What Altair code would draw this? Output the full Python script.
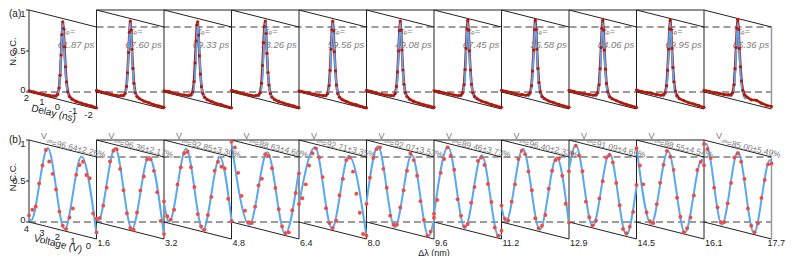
import altair as alt
import pandas as pd

# ---------------- data ----------------
panels = list(range(11))
tau_values = ["61.87", "67.60", "69.33", "73.26", "59.56", "49.08",
              "67.45", "35.58", "84.06", "69.95", "86.36"]
vis_values = ["96.64±2.26", "96.36±2.17", "92.85±3.30", "88.63±4.60",
              "92.71±3.35", "92.07±3.53", "89.46±3.73", "96.40±2.33",
              "91.09±4.66", "88.55±4.54", "85.00±5.49"]
wavelength_ticks = ["1.6", "3.2", "4.8", "6.4", "8.0", "9.6",
                    "11.2", "12.9", "14.5", "16.1", "17.7"]
ncc_ticks = [0, 0.5, 1]
ncc_tick_labels = ["0", "0.5", "1"]
delay_ticks = [2, 1, 0, -1, -2]
voltage_ticks = [4, 3, 2, 1, 0]

# (a) measured NCC vs delay (ns)
delay_grid = [2.0, 1.7, 1.4, 1.1, 0.8, 0.55, 0.4, 0.3, 0.22, 0.16, 0.1, 0.05,
              0.0, -0.05, -0.1, -0.16, -0.22, -0.3, -0.4, -0.55, -0.8, -1.1,
              -1.4, -1.7, -2.0]
red_a = [
    [0.015, 0.015, 0.015, 0.015, 0.02, 0.025, 0.035, 0.06, 0.14, 0.30, 0.55, 0.80, 0.96, 0.88, 0.66, 0.42, 0.24, 0.12, 0.07, 0.045, 0.03, 0.025, 0.02, 0.02, 0.015],
    [0.02, 0.015, 0.02, 0.015, 0.02, 0.03, 0.04, 0.07, 0.16, 0.33, 0.58, 0.83, 0.97, 0.86, 0.63, 0.40, 0.22, 0.11, 0.07, 0.05, 0.035, 0.03, 0.02, 0.02, 0.02],
    [0.015, 0.02, 0.015, 0.02, 0.025, 0.03, 0.05, 0.09, 0.22, 0.45, 0.72, 0.92, 0.96, 0.80, 0.55, 0.33, 0.18, 0.10, 0.06, 0.04, 0.03, 0.02, 0.02, 0.015, 0.015],
    [0.02, 0.02, 0.015, 0.02, 0.02, 0.03, 0.045, 0.08, 0.20, 0.42, 0.70, 0.90, 0.97, 0.82, 0.58, 0.35, 0.20, 0.10, 0.06, 0.04, 0.03, 0.025, 0.02, 0.02, 0.015],
    [0.015, 0.015, 0.02, 0.02, 0.025, 0.03, 0.04, 0.07, 0.17, 0.36, 0.62, 0.86, 0.97, 0.85, 0.60, 0.37, 0.20, 0.10, 0.06, 0.04, 0.03, 0.02, 0.02, 0.015, 0.015],
    [0.02, 0.02, 0.02, 0.02, 0.025, 0.03, 0.04, 0.07, 0.16, 0.34, 0.60, 0.85, 0.97, 0.86, 0.62, 0.38, 0.21, 0.11, 0.07, 0.045, 0.03, 0.025, 0.02, 0.02, 0.02],
    [0.015, 0.02, 0.02, 0.025, 0.025, 0.03, 0.045, 0.08, 0.18, 0.37, 0.63, 0.87, 0.98, 0.86, 0.61, 0.38, 0.21, 0.11, 0.07, 0.05, 0.035, 0.03, 0.025, 0.02, 0.02],
    [0.02, 0.02, 0.025, 0.02, 0.03, 0.035, 0.05, 0.08, 0.17, 0.35, 0.61, 0.86, 0.98, 0.87, 0.63, 0.40, 0.23, 0.12, 0.07, 0.05, 0.035, 0.03, 0.025, 0.02, 0.02],
    [0.02, 0.02, 0.02, 0.025, 0.03, 0.035, 0.05, 0.08, 0.18, 0.38, 0.64, 0.88, 0.98, 0.86, 0.62, 0.39, 0.22, 0.12, 0.07, 0.05, 0.04, 0.03, 0.025, 0.02, 0.02],
    [0.025, 0.02, 0.025, 0.03, 0.03, 0.035, 0.05, 0.08, 0.17, 0.36, 0.62, 0.87, 0.98, 0.87, 0.64, 0.41, 0.24, 0.13, 0.08, 0.05, 0.04, 0.03, 0.03, 0.025, 0.02],
    [0.02, 0.025, 0.02, 0.03, 0.03, 0.04, 0.05, 0.08, 0.18, 0.38, 0.64, 0.88, 0.99, 0.87, 0.64, 0.42, 0.25, 0.14, 0.09, 0.07, 0.05, 0.06, 0.04, 0.03, 0.03],
]
# (a) fitted curve (same shape in every panel)
fit_delay = [0.45, 0.3, 0.22, 0.15, 0.08, 0.0, -0.08, -0.15, -0.22, -0.3, -0.45]
fit_a = [0.02, 0.06, 0.14, 0.32, 0.66, 0.95, 0.68, 0.38, 0.20, 0.10, 0.04]

# (b) measured NCC vs voltage (V)
volt_grid = [4.0, 3.8, 3.6, 3.4, 3.2, 3.0, 2.8, 2.6, 2.4, 2.2, 2.0,
             1.8, 1.6, 1.4, 1.2, 1.0, 0.8, 0.6, 0.4, 0.2, 0.0]
red_b = [
    [0.08, 0.16, 0.21, 0.50, 0.73, 0.93, 0.80, 0.66, 0.48, 0.22, 0.06, 0.03, 0.18, 0.30, 0.72, 0.85, 0.90, 0.75, 0.72, 0.30, 0.08],
    [0.04, 0.06, 0.22, 0.45, 0.78, 0.92, 0.95, 0.72, 0.47, 0.20, 0.03, 0.02, 0.24, 0.52, 0.70, 0.92, 0.93, 0.80, 0.55, 0.21, 0.06],
    [0.25, 0.08, 0.05, 0.18, 0.50, 0.72, 0.90, 0.93, 0.75, 0.52, 0.20, 0.06, 0.03, 0.22, 0.45, 0.78, 0.90, 0.85, 0.84, 0.48, 0.22],
    [0.98, 0.92, 0.62, 0.35, 0.18, 0.05, 0.05, 0.26, 0.53, 0.62, 0.93, 0.92, 0.78, 0.55, 0.30, 0.10, 0.03, 0.05, 0.33, 0.55, 0.80],
    [0.22, 0.30, 0.48, 0.72, 0.88, 0.95, 0.85, 0.62, 0.25, 0.08, 0.03, 0.13, 0.45, 0.66, 0.90, 0.94, 0.78, 0.52, 0.30, 0.05, 0.04],
    [0.22, 0.55, 0.80, 0.92, 0.95, 0.70, 0.48, 0.15, 0.05, 0.06, 0.28, 0.50, 0.75, 0.97, 0.90, 0.72, 0.42, 0.20, 0.02, 0.08, 0.26],
    [0.10, 0.28, 0.62, 0.80, 0.95, 0.86, 0.70, 0.35, 0.16, 0.04, 0.08, 0.35, 0.55, 0.88, 0.93, 0.85, 0.63, 0.42, 0.12, 0.03, 0.10],
    [0.20, 0.05, 0.04, 0.28, 0.50, 0.82, 0.93, 0.90, 0.70, 0.48, 0.15, 0.04, 0.08, 0.22, 0.55, 0.78, 0.92, 0.95, 0.75, 0.42, 0.20],
    [0.62, 0.85, 0.95, 0.84, 0.66, 0.30, 0.12, 0.03, 0.10, 0.38, 0.60, 0.90, 0.94, 0.86, 0.62, 0.36, 0.08, 0.04, 0.13, 0.32, 0.66],
    [0.90, 0.70, 0.48, 0.15, 0.05, 0.04, 0.28, 0.55, 0.78, 0.96, 0.90, 0.75, 0.42, 0.20, 0.02, 0.08, 0.22, 0.50, 0.82, 0.93, 0.90],
    [0.95, 0.90, 0.80, 0.45, 0.22, 0.05, 0.06, 0.30, 0.56, 0.88, 0.94, 0.85, 0.65, 0.30, 0.10, 0.03, 0.15, 0.47, 0.70, 0.90, 0.92],
]
# (b) fitted fringes: (voltage, NCC) at the ends and at each extremum
fit_b = [
    [(4.0, 0.05), (3.89, 0.02), (2.89, 0.96), (1.89, 0.02), (0.89, 0.96), (0.0, 0.06)],
    [(4.0, 0.04), (3.9, 0.02), (2.9, 0.96), (1.9, 0.02), (0.9, 0.96), (0.0, 0.04)],
    [(4.0, 0.23), (3.69, 0.02), (2.69, 0.96), (1.69, 0.02), (0.69, 0.96), (0.0, 0.23)],
    [(4.0, 0.96), (2.94, 0.02), (1.88, 0.96), (0.82, 0.02), (0.0, 0.85)],
    [(4.0, 0.22), (3.05, 0.96), (2.05, 0.02), (1.05, 0.96), (0.0, 0.03)],
    [(4.0, 0.24), (3.32, 0.96), (2.32, 0.02), (1.32, 0.96), (0.32, 0.02), (0.0, 0.24)],
    [(4.0, 0.09), (3.17, 0.96), (2.17, 0.02), (1.17, 0.96), (0.17, 0.02), (0.0, 0.06)],
    [(4.0, 0.18), (3.73, 0.02), (2.73, 0.96), (1.73, 0.02), (0.73, 0.96), (0.0, 0.18)],
    [(4.0, 0.64), (3.6, 0.96), (2.6, 0.02), (1.6, 0.96), (0.6, 0.02), (0.0, 0.64)],
    [(4.0, 0.92), (3.13, 0.02), (2.13, 0.96), (1.13, 0.02), (0.13, 0.96), (0.0, 0.93)],
    [(4.0, 0.93), (3.88, 0.96), (2.94, 0.02), (1.99, 0.96), (1.04, 0.02), (0.09, 0.96), (0.0, 0.95)],
]

# ---------------- layout (oblique panels) ----------------
FONT = "Liberation Sans"
PW = 67.5            # px per panel along x
UNIT = 82.0          # px per NCC unit
SK = 17.0 / UNIT     # drop of the oblique axis across one panel
BASE_A = 130.0 / UNIT
BASE_B = 0.0
W, H = 777, 248


def ux(p):  # page px -> x units
    return (p - 29) / PW


def uy(p):  # page px -> y units
    return (222 - p) / UNIT


XS = alt.Scale(domain=[ux(8), ux(8 + W)], nice=False, zero=False)
YS = alt.Scale(domain=[uy(8 + H), uy(8)], nice=False, zero=False)
XE = dict(scale=XS, axis=None)
YE = dict(scale=YS, axis=None)

# frame segments
seg = []
for base in (BASE_A, BASE_B):
    top = base + 1
    seg.append(("solid", 0, top, 0, base))
    for v in ncc_ticks:
        seg.append(("solid", -3 / PW, base + v, 0, base + v))
    for k in panels:
        seg.append(("solid", k, top, k + 1, top - SK))
        seg.append(("solid", k, base, k + 1, base - SK))
        if k < 10:
            seg.append(("solid", k + 1, top, k + 1, base - SK))
        else:
            seg.append(("grey", k + 1, top - SK, k + 1, base - SK))
        if 1 <= k <= 9:
            seg.append(("solid", k, top, k + 1, top))
    seg.append(("dash", 0, base, 11, base))
    seg.append(("dash", 1, top - SK, 11, top - SK))
seg_df = pd.DataFrame(seg, columns=["kind", "X", "Y", "X2", "Y2"])


def rules(kind, color, width, dash=None):
    kw = dict(color=color, strokeWidth=width)
    if dash:
        kw["strokeDash"] = dash
    return alt.Chart(seg_df[seg_df.kind == kind]).mark_rule(**kw).encode(
        x=alt.X("X:Q", **XE), y=alt.Y("Y:Q", **YE), x2="X2:Q", y2="Y2:Q")


# data to oblique coordinates
ra, fa, rb, fb = [], [], [], []
for k in panels:
    for d, v in zip(delay_grid, red_a[k]):
        u = (2 - d) / 4
        ra.append(dict(panel=k, X=k + u, Y=BASE_A + v - SK * u))
    for d, v in zip(fit_delay, fit_a):
        u = (2 - d) / 4
        fa.append(dict(panel=k, X=k + u, Y=BASE_A + v - SK * u))
    for V, v in zip(volt_grid, red_b[k]):
        u = (4 - V) / 4
        rb.append(dict(panel=k, X=k + u, Y=BASE_B + v - SK * u))
    for V, v in fit_b[k]:
        u = (4 - V) / 4
        fb.append(dict(panel=k, X=k + u, Y=BASE_B + v - SK * u))
ra, fa, rb, fb = map(pd.DataFrame, (ra, fa, rb, fb))


def line(df, color, width, interp="linear"):
    return alt.Chart(df).mark_line(color=color, strokeWidth=width, interpolate=interp).encode(
        x=alt.X("X:Q", **XE), y=alt.Y("Y:Q", **YE), detail="panel:N")


def dots(df, color, size):
    return alt.Chart(df).mark_circle(color=color, size=size, opacity=1).encode(
        x=alt.X("X:Q", **XE), y=alt.Y("Y:Q", **YE))


def texts(rows, **kw):
    df = pd.DataFrame(rows, columns=["X", "Y", "t"])
    kw.setdefault("font", FONT)
    return alt.Chart(df).mark_text(**kw).encode(
        x=alt.X("X:Q", **XE), y=alt.Y("Y:Q", **YE), text="t:N")


# text tables (label offsets in px as in the reference)
ncc_nudge = {"0": 2.5, "0.5": 0.0, "1": -3.5}
ncc_lab = [(ux(25.5), b + v + ncc_nudge[s] / UNIT, s) for b in (BASE_A, BASE_B)
           for v, s in zip(ncc_ticks, ncc_tick_labels)]
delay_lab = []
for d in delay_ticks:
    u = (2 - d) / 4
    delay_lab.append((ux(26.5 + 62 * u), BASE_A - (6.0 + 17 * u) / UNIT, str(d)))
volt_lab = []
for vv in voltage_ticks:
    u = (4 - vv) / 4
    volt_lab.append((ux(26.5 + 62 * u), BASE_B - (6.5 + 17 * u) / UNIT, str(vv)))
wl_lab = [(k + 1 + 1 / PW, uy(238.5), wavelength_ticks[k]) for k in panels[:-1]]
wl_last = [(ux(785), uy(238.5), wavelength_ticks[-1])]
tau_sym = [(k + 40 / PW, uy(31), "τₑ=") for k in panels]
tau_num = [(k + 47 / PW, uy(45), tau_values[k] + " ps") for k in panels]
vis_v = [(k + 15 / PW, uy(136), "V") for k in panels]
vis_s = [(k + 20.5 / PW, uy(141), "vis") for k in panels]
vis_t = [(k + 23 / PW, uy(142.5), "=" + vis_values[k] + "%") for k in panels]

GREY = "#7d7d7d"
RED_A = "#b3190c"
RED_B = "#f4493f"
BLUE = "#5aa8ee"
INK = "#222222"

layers = [
    texts(tau_sym, align="center", baseline="middle", fontSize=9, color=GREY, fontStyle="italic"),
    texts(tau_num, align="center", baseline="middle", fontSize=9.5, color=GREY, fontStyle="italic"),
    rules("dash", "#3a3a3a", 1, [7, 4]),
    rules("solid", INK, 1),
    rules("grey", "#9a9a9a", 1.5),
    line(ra, RED_A, 2.6),
    line(fa, BLUE, 1.8, "monotone"),
    dots(ra, RED_A, 10),
    line(fb, BLUE, 2.0, "monotone"),
    dots(rb, RED_B, 15),
    texts(ncc_lab, align="right", baseline="middle", fontSize=9.5, color=INK),
    texts(delay_lab, align="center", baseline="middle", fontSize=9.5, color=INK),
    texts(volt_lab, align="center", baseline="middle", fontSize=9.5, color=INK),
    texts(wl_lab, align="left", baseline="top", fontSize=9, color=INK),
    texts(wl_last, align="right", baseline="top", fontSize=9, color=INK),
    texts([(ux(53.5), uy(113.5), "Delay (ns)")], align="center", baseline="middle",
          fontSize=10, angle=14, color=INK),
    texts([(ux(58), uy(244), "Voltage (V)")], align="center", baseline="middle",
          fontSize=10, angle=14, color=INK),
    texts([(ux(434), uy(252.5), "Δλ (nm)")], align="center", baseline="middle",
          fontSize=9, color=INK),
    texts([(ux(12.5), uy(51.5), "N.C.C."), (ux(12.5), uy(177), "N.C.C.")],
          align="center", baseline="middle", fontSize=9.5, angle=270, color=INK),
    texts([(ux(9), uy(8.5), "(a)"), (ux(9), uy(135), "(b)")],
          align="left", baseline="top", fontSize=10, color=INK),
    texts(vis_v, align="center", baseline="middle", fontSize=9, color=GREY),
    texts(vis_s, align="center", baseline="middle", fontSize=5, color=GREY),
    texts(vis_t, align="left", baseline="middle", fontSize=8.5, color=GREY, angle=13),
]

chart = alt.layer(*layers).properties(
    width=W, height=H, padding=0, autosize="none"
).configure_view(stroke=None)

chart.save("out.html", embed_options={"renderer": "svg", "actions": False})
